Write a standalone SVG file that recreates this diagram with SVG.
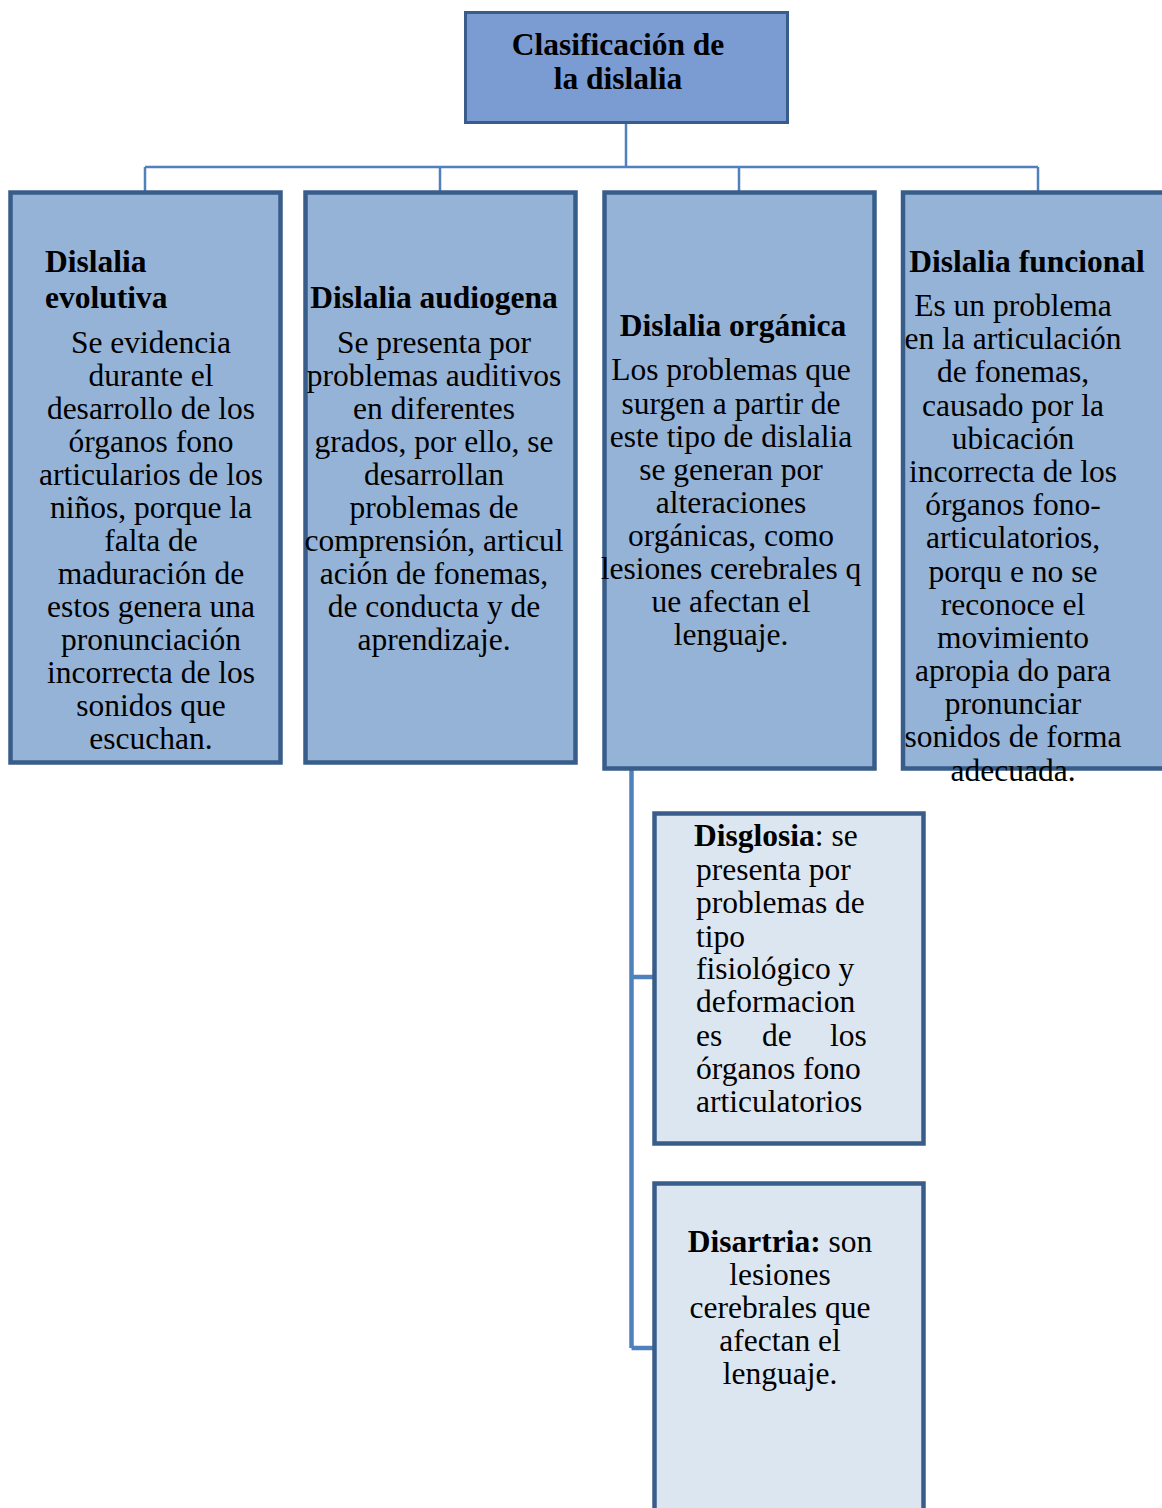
<svg xmlns="http://www.w3.org/2000/svg" width="1162" height="1508" viewBox="0 0 1162 1508">
<style>
text{font-family:"Liberation Serif","Times New Roman",serif;font-size:31.5px;fill:#000}
.b{font-weight:bold}
.c{text-anchor:middle}
.box{fill:#95b3d7;stroke:#385d8a;stroke-width:4.5}
.sub{fill:#dce6f1;stroke:#385d8a;stroke-width:4.5}
.top{fill:#7b9cd3;stroke:#385d8a;stroke-width:3}
.ln{fill:none;stroke:#4f81bd;stroke-width:2.5}
.ln2{fill:none;stroke:#4f81bd;stroke-width:4.5}
</style>
<rect width="1162" height="1508" fill="#fff"/>
<g id="connectors">
<path class="ln" d="M626 123V167M145 167H1038M145 167V192M440 167V192M739 167V192M1038 167V192"/>
<path class="ln2" d="M631.5 769V1348M631.5 977H654M631.5 1348H654"/>
</g>
<g id="root">
<rect class="top" x="465.5" y="12.5" width="322" height="110"/>
<text class="b c" x="618" y="55">Clasificación de</text>
<text class="b c" x="618" y="89">la dislalia</text>
</g>
<g id="evolutiva">
<rect class="box" x="10.5" y="192.5" width="270" height="570"/>
<text class="b" x="45" y="272">Dislalia</text>
<text class="b" x="45" y="308">evolutiva</text>
<g class="c">
<text class="c" x="151" y="353">Se evidencia</text>
<text class="c" x="151" y="386">durante el</text>
<text class="c" x="151" y="419">desarrollo de los</text>
<text class="c" x="151" y="452">órganos fono</text>
<text class="c" x="151" y="485">articularios de los</text>
<text class="c" x="151" y="518">niños, porque la</text>
<text class="c" x="151" y="551">falta de</text>
<text class="c" x="151" y="584">maduración de</text>
<text class="c" x="151" y="617">estos genera una</text>
<text class="c" x="151" y="650">pronunciación</text>
<text class="c" x="151" y="683">incorrecta de los</text>
<text class="c" x="151" y="716">sonidos que</text>
<text class="c" x="151" y="749">escuchan.</text>
</g>
</g>
<g id="audiogena">
<rect class="box" x="305.5" y="192.5" width="270" height="570"/>
<text class="b c" x="434" y="308">Dislalia audiogena</text>
<text class="c" x="434" y="353">Se presenta por</text>
<text class="c" x="434" y="386">problemas auditivos</text>
<text class="c" x="434" y="419">en diferentes</text>
<text class="c" x="434" y="452">grados, por ello, se</text>
<text class="c" x="434" y="485">desarrollan</text>
<text class="c" x="434" y="518">problemas de</text>
<text class="c" x="434" y="551">comprensión, articul</text>
<text class="c" x="434" y="584">ación de fonemas,</text>
<text class="c" x="434" y="617">de conducta y de</text>
<text class="c" x="434" y="650">aprendizaje.</text>
</g>
<g id="organica">
<rect class="box" x="604.5" y="192.5" width="270" height="576"/>
<text class="b c" x="733" y="336">Dislalia orgánica</text>
<text class="c" x="731" y="380">Los problemas que</text>
<text class="c" x="731" y="414">surgen a partir de</text>
<text class="c" x="731" y="447">este tipo de dislalia</text>
<text class="c" x="731" y="480">se generan por</text>
<text class="c" x="731" y="513">alteraciones</text>
<text class="c" x="731" y="546">orgánicas, como</text>
<text class="c" x="731" y="579">lesiones cerebrales q</text>
<text class="c" x="731" y="612">ue afectan el</text>
<text class="c" x="731" y="645">lenguaje.</text>
</g>
<g id="funcional">
<rect class="box" x="903" y="192.5" width="270" height="576"/>
<text class="b c" x="1027" y="272">Dislalia funcional</text>
<text class="c" x="1013" y="316">Es un problema</text>
<text class="c" x="1013" y="349">en la articulación</text>
<text class="c" x="1013" y="382">de fonemas,</text>
<text class="c" x="1013" y="416">causado por la</text>
<text class="c" x="1013" y="449">ubicación</text>
<text class="c" x="1013" y="482">incorrecta de los</text>
<text class="c" x="1013" y="515">órganos fono-</text>
<text class="c" x="1013" y="548">articulatorios,</text>
<text class="c" x="1013" y="582">porqu e no se</text>
<text class="c" x="1013" y="615">reconoce el</text>
<text class="c" x="1013" y="648">movimiento</text>
<text class="c" x="1013" y="681">apropia do para</text>
<text class="c" x="1013" y="714">pronunciar</text>
<text class="c" x="1013" y="747">sonidos de forma</text>
<text class="c" x="1013" y="781">adecuada.</text>
</g>
<g id="disglosia">
<rect class="sub" x="654.5" y="813.5" width="269" height="330"/>
<text x="694" y="846"><tspan class="b">Disglosia</tspan>: se</text>
<text x="696" y="880">presenta por</text>
<text x="696" y="913">problemas de</text>
<text x="696" y="947">tipo</text>
<text x="696" y="979">fisiológico y</text>
<text x="696" y="1012">deformacion</text>
<text x="696" y="1046">es</text>
<text x="762" y="1046">de</text>
<text x="830" y="1046">los</text>
<text x="696" y="1079">órganos fono</text>
<text x="696" y="1112">articulatorios</text>
</g>
<g id="disartria">
<rect class="sub" x="654.5" y="1183.5" width="269" height="340"/>
<text class="c" x="780" y="1252"><tspan class="b">Disartria:</tspan> son</text>
<text class="c" x="780" y="1285">lesiones</text>
<text class="c" x="780" y="1318">cerebrales que</text>
<text class="c" x="780" y="1351">afectan el</text>
<text class="c" x="780" y="1384">lenguaje.</text>
</g>
</svg>
